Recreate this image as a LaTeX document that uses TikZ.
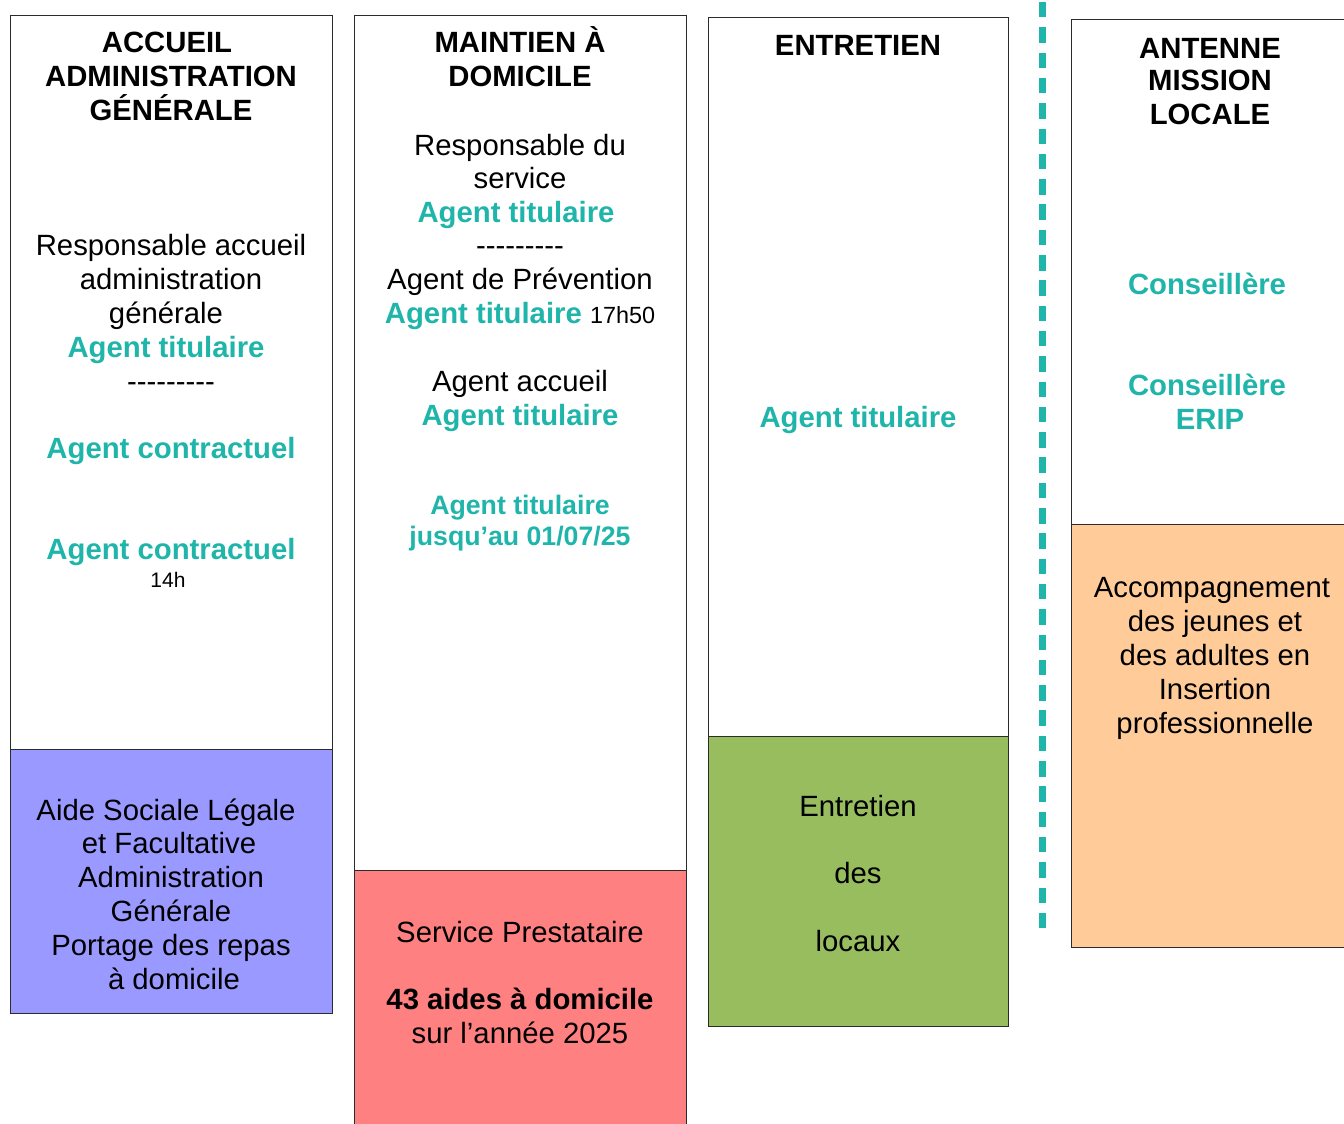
\documentclass[tikz,border=0pt]{standalone}
\usepackage{fontspec}
\setmainfont{Liberation Sans}
\definecolor{tealc}{HTML}{1FB5AA}
\definecolor{bluebox}{HTML}{9999FF}
\definecolor{redbox}{HTML}{FF8080}
\definecolor{greenbox}{HTML}{97BD5F}
\definecolor{orangebox}{HTML}{FFCC99}
\definecolor{edge}{HTML}{2B2B2B}
\tikzset{
  x=1pt, y=-1pt,
  colbox/.style={draw=edge, line width=1pt},
  txt/.style={anchor=base, align=center, inner sep=0pt, font=\fontsize{29.3}{33.8}\selectfont},
  ttl/.style={txt, font=\fontsize{29.3}{34}\selectfont\bfseries},
  ag/.style={txt, font=\fontsize{29.3}{33.8}\selectfont\bfseries, text=tealc},
}
\newcommand{\agt}[1]{{\bfseries\color{tealc}#1}}
\newcommand{\dashline}{-{}-{}-{}-{}-{}-{}-{}-{}-}
\newcommand{\shl}[1]{\mbox{}\kern#1pt\mbox{}}
\begin{document}
\begin{tikzpicture}
\useasboundingbox (0,0) rectangle (1344,1124);
\clip (0,0) rectangle (1344,1124);
% column boxes
\draw[colbox, fill=white] (10,16) rectangle (332,749);
\draw[colbox, fill=bluebox] (10,749) rectangle (332,1013);
\draw[colbox, fill=white] (354,16) rectangle (686,870);
\draw[colbox, fill=redbox] (354,870) rectangle (686,1140);
\draw[colbox, fill=white] (708,18) rectangle (1008,736);
\draw[colbox, fill=greenbox] (708,736) rectangle (1008,1026);
\draw[colbox, fill=white] (1071,20) rectangle (1360,524);
\draw[colbox, fill=orangebox] (1071,524) rectangle (1360,947);
% separator
\draw[tealc, line width=7pt, dash pattern=on 15.5pt off 9.8pt] (1042,2) -- (1042,929);

% column 1 (anchor = baseline of last line)
\node[ttl] (t1) at (171,121) {ACCUEIL\shl{8}\\ADMINISTRATION\\GÉNÉRALE};
\node[txt] (r1) at (171,391) {Responsable accueil\\administration\\générale\shl{10}\\\agt{Agent titulaire}\shl{10}\\\dashline};
\node[ag] (c1) at (171,458) {Agent contractuel};
\node[ag] (c2) at (171,559) {Agent contractuel};
\node[txt, font=\fontsize{21}{24}\selectfont] (h1) at (168,587) {14h};
\node[txt] (b1) at (171,989) {Aide Sociale Légale\shl{10}\\et Facultative\shl{4}\\Administration\\Générale\\Portage des repas\\\shl{6}à domicile};

% column 2
\node[ttl] (t2) at (520,87) {MAINTIEN À\\DOMICILE};
\node[txt, font=\fontsize{29.3}{33.6}\selectfont] (r2) at (520,323) {Responsable du\\service\\\agt{Agent titulaire}\shl{8}\\\dashline\\Agent de Prévention\\\agt{Agent titulaire} {\fontsize{23.4}{26}\selectfont 17h50}};
\node[txt] (a2) at (520,425) {Agent accueil\\\agt{Agent titulaire}};
\node[ag, font=\fontsize{26.7}{31}\selectfont\bfseries] (j2) at (520,545) {Agent titulaire\\jusqu’au 01/07/25};
\node[txt] (s2) at (520,942) {Service Prestataire};
\node[txt, font=\fontsize{29.3}{34}\selectfont] (n2) at (520,1043) {\textbf{43 aides à domicile}\\sur l’année 2025};

% column 3
\node[ttl] (t3) at (858,56) {ENTRETIEN};
\node[ag] (a3) at (858,427) {Agent titulaire};
\node[txt, font=\fontsize{29.3}{67.5}\selectfont] (g3) at (858,951) {Entretien\\des\\locaux};

% column 4
\node[ttl, font=\fontsize{29.3}{33}\selectfont\bfseries] (t4) at (1210,124) {ANTENNE\\MISSION\\LOCALE};
\node[ag] (c4) at (1207,294) {Conseillère};
\node[ag, font=\fontsize{29.3}{34}\selectfont\bfseries] (e4) at (1207,429) {Conseillère\\\shl{6}ERIP};
\node[txt] (o4) at (1212,733) {Accompagnement\\\shl{6}des jeunes et\\\shl{6}des adultes en\\\shl{6}Insertion\\\shl{6}professionnelle};
\end{tikzpicture}
\end{document}
